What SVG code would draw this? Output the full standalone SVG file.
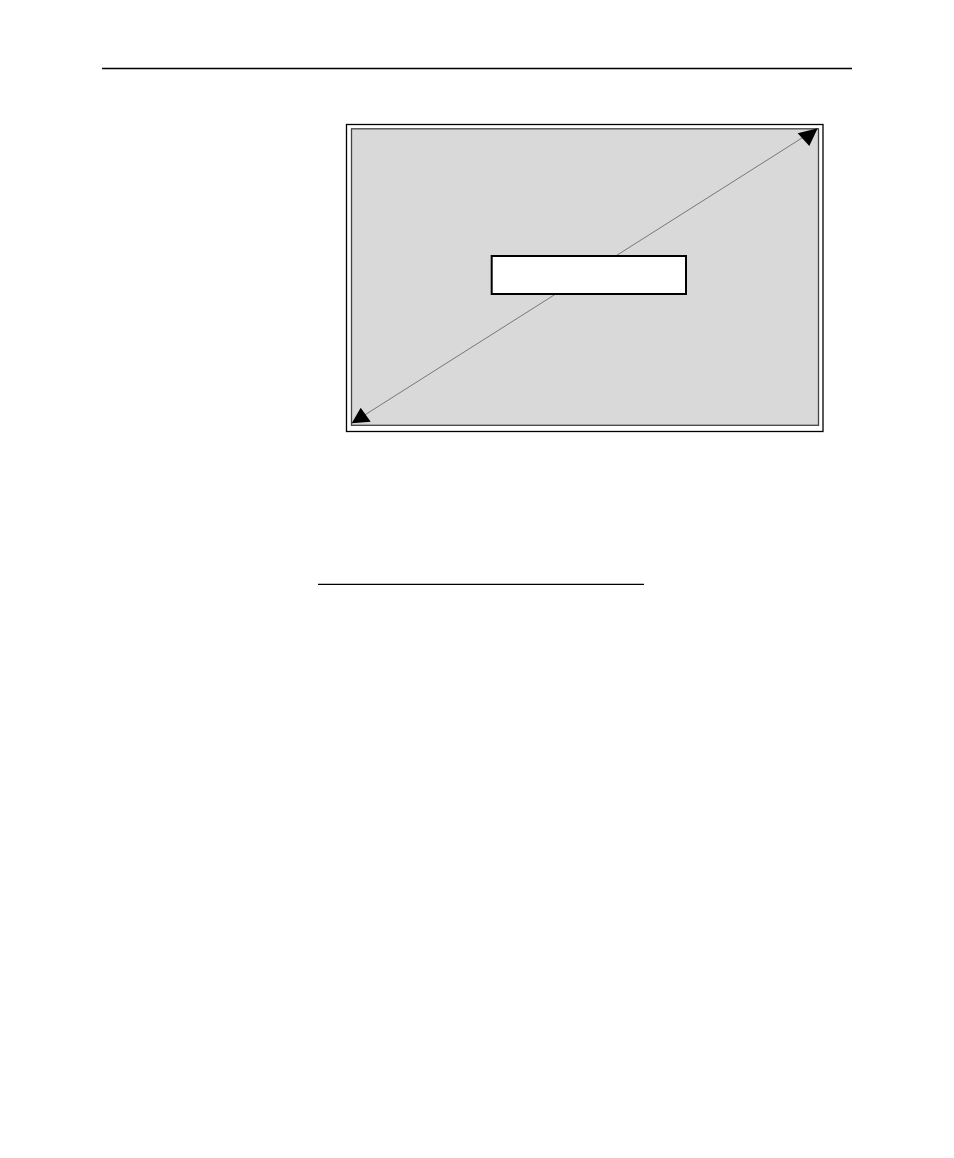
<svg xmlns="http://www.w3.org/2000/svg" width="954" height="1158" viewBox="0 0 954 1158">
<style>
.rule{stroke:#000;stroke-width:1.3}
.head{fill:#000}
</style>
<rect width="954" height="1158" fill="#fff"/>
<line class="rule" x1="102" y1="68.5" x2="852" y2="68.5"/>
<g id="frame">
<rect x="346.5" y="124.5" width="476.5" height="307" fill="#fff" stroke="#000" stroke-width="1.3"/>
<rect x="351.5" y="128.8" width="467" height="296.5" fill="#d9d9d9" stroke="#444" stroke-width="1.3"/>
</g>
<g id="connectors">
<line x1="356" y1="420.5" x2="813" y2="131" stroke="#777" stroke-width="1"/>
<polygon class="head" points="817.7,128.3 797.7,133.3 809.3,146"/>
<polygon class="head" points="351.7,423.3 360.7,407.7 370.7,421.7"/>
</g>
<g id="box">
<rect x="491.7" y="256" width="194.3" height="38" fill="#fff" stroke="#000" stroke-width="2"/>
</g>
<line class="rule" x1="318" y1="584.3" x2="644" y2="584.3"/>
</svg>
